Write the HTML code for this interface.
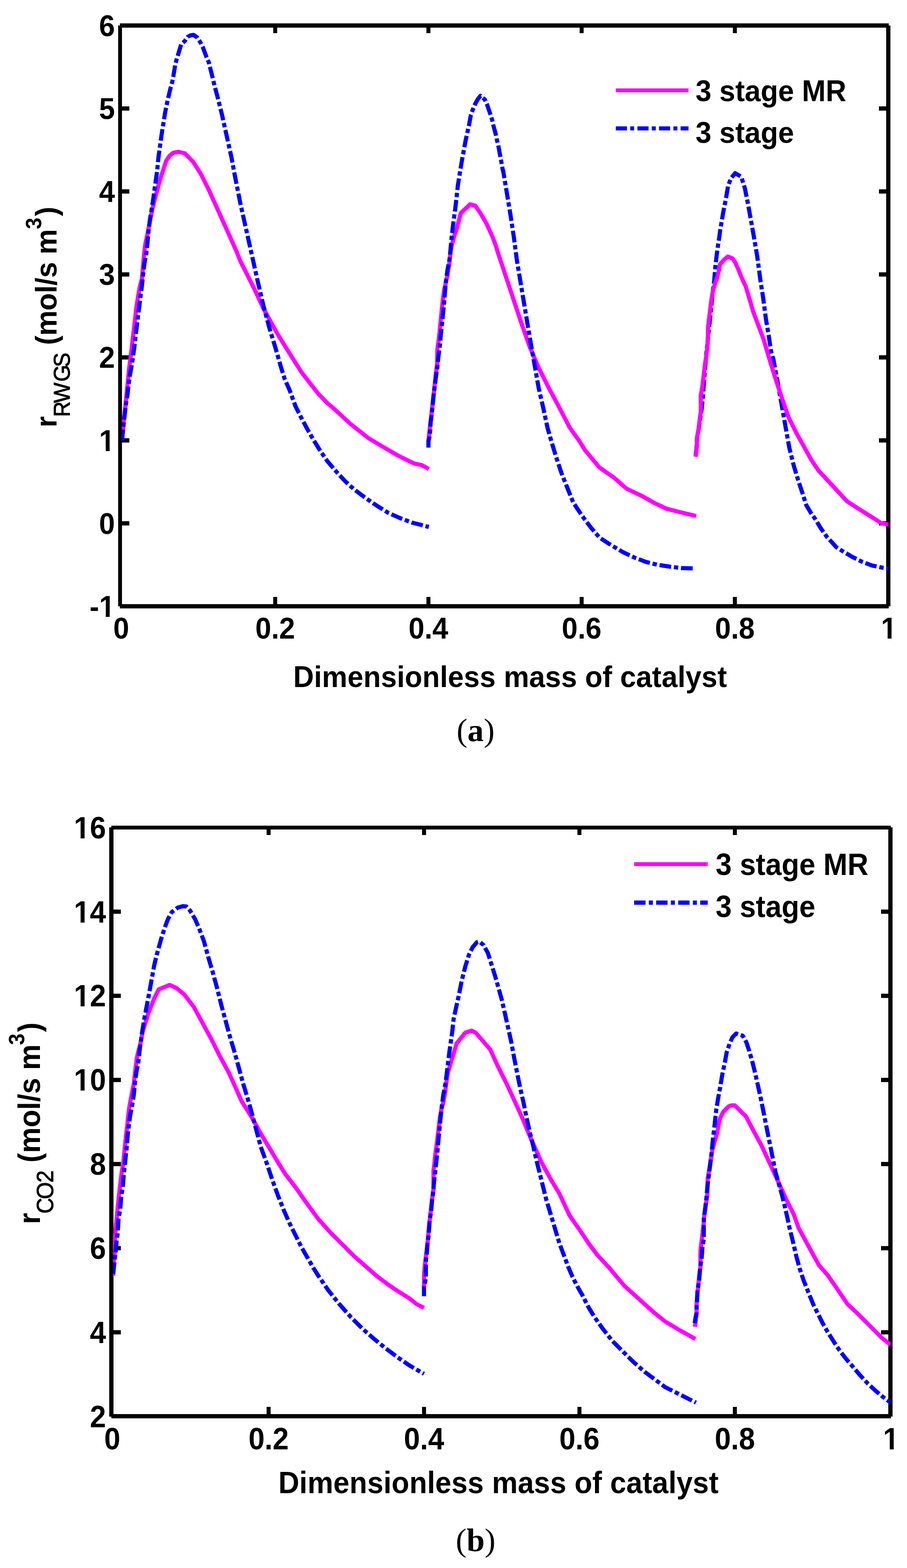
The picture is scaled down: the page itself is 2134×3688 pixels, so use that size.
<!DOCTYPE html>
<html lang="en"><head><meta charset="utf-8"><title>Reaction rate profiles</title>
<style>
html,body{margin:0;padding:0;background:#fff}
svg{display:block}
text{fill:#000}
.sb{font-family:"Liberation Sans",sans-serif;font-weight:bold}
.sr{font-family:"Liberation Serif",serif}
.ss{font-family:"Liberation Sans",sans-serif;font-weight:normal;stroke:#000;stroke-width:1.1px;stroke-linejoin:round}
</style></head><body>
<svg width="2134" height="3688" viewBox="0 0 2134 3688" role="img" aria-label="Reaction rate profiles along the dimensionless mass of catalyst for the 3 stage MR and 3 stage configurations">
<rect width="2134" height="3688" fill="#fff"/>
<rect x="278.0" y="60.0" width="9.0" height="1366.0" fill="#000"/>
<rect x="2085.0" y="60.0" width="10.0" height="1366.0" fill="#000"/>
<rect x="282.0" y="55.0" width="1809.0" height="10.0" fill="#000"/>
<rect x="282.0" y="1421.0" width="1809.0" height="10.0" fill="#000"/>
<rect x="642.8" y="64.0" width="9.4" height="14.0" fill="#000"/>
<rect x="642.8" y="1404.0" width="9.4" height="18.0" fill="#000"/>
<rect x="1003.3" y="64.0" width="9.4" height="14.0" fill="#000"/>
<rect x="1003.3" y="1404.0" width="9.4" height="18.0" fill="#000"/>
<rect x="1363.8" y="64.0" width="9.4" height="14.0" fill="#000"/>
<rect x="1363.8" y="1404.0" width="9.4" height="18.0" fill="#000"/>
<rect x="1724.3" y="64.0" width="9.4" height="14.0" fill="#000"/>
<rect x="1724.3" y="1404.0" width="9.4" height="18.0" fill="#000"/>
<rect x="286.0" y="1225.9" width="18.3" height="10.0" fill="#000"/>
<rect x="2068.0" y="1225.9" width="18.0" height="10.0" fill="#000"/>
<rect x="286.0" y="1030.8" width="18.3" height="10.0" fill="#000"/>
<rect x="2068.0" y="1030.8" width="18.0" height="10.0" fill="#000"/>
<rect x="286.0" y="835.6" width="18.3" height="10.0" fill="#000"/>
<rect x="2068.0" y="835.6" width="18.0" height="10.0" fill="#000"/>
<rect x="286.0" y="640.5" width="18.3" height="10.0" fill="#000"/>
<rect x="2068.0" y="640.5" width="18.0" height="10.0" fill="#000"/>
<rect x="286.0" y="445.3" width="18.3" height="10.0" fill="#000"/>
<rect x="2068.0" y="445.3" width="18.0" height="10.0" fill="#000"/>
<rect x="286.0" y="250.2" width="18.3" height="10.0" fill="#000"/>
<rect x="2068.0" y="250.2" width="18.0" height="10.0" fill="#000"/>
<clipPath id="clipa"><rect x="286.5" y="60" width="1804.0" height="1366"/></clipPath>
<g clip-path="url(#clipa)">
<polyline points="287.0,1036.0 289.5,1005.0 291.5,985.0 294.3,961.6 297.5,929.8 300.6,898.1 303.8,866.3 307.0,842.5 309.8,818.7 312.5,794.9 315.4,771.1 318.1,747.3 320.8,723.5 324.4,699.7 328.4,677.0 333.8,655.6 336.0,633.3 337.7,611.1 339.9,588.9 342.1,573.3 344.9,560.0 347.7,546.7 350.5,532.0 354.6,511.1 357.9,494.4 361.8,477.8 366.2,461.1 370.7,444.4 375.1,427.8 379.6,413.3 384.0,400.0 390.7,378.8 398.9,366.5 407.2,359.6 419.5,356.9 434.6,360.4 454.3,380.5 464.1,395.7 473.9,411.8 482.9,429.6 491.8,447.5 499.8,465.4 507.9,483.2 515.9,501.1 523.9,518.9 532.0,536.8 540.0,554.6 548.0,572.5 556.1,590.4 563.2,608.2 567.7,618.9 575.2,633.2 599.2,681.2 619.8,725.8 636.9,756.7 654.1,787.5 671.2,815.0 688.4,842.4 709.0,875.0 729.5,901.5 750.0,927.4 770.0,948.0 784.3,960.0 825.4,997.7 866.6,1030.3 900.9,1050.9 935.2,1070.8 974.6,1090.3 991.8,1093.8 1008.9,1103.0" fill="none" stroke="#ff00ff" stroke-width="9.7" stroke-linejoin="round"/>
<polyline points="287.0,1036.2 289.5,1012.0 291.5,993.0 294.0,970.0 297.0,946.0 299.8,930.0 302.5,905.0 306.0,880.0 310.5,856.0 313.0,838.0 315.8,818.7 318.5,795.0 321.5,770.0 324.5,745.0 327.5,722.0 330.5,698.0 333.9,672.2 336.7,644.4 340.0,618.9 344.4,594.4 347.2,568.9 349.4,543.9 352.4,518.3 356.7,493.3 360.6,467.8 363.9,442.8 367.6,417.2 369.4,404.4 372.9,369.2 379.7,319.8 388.0,267.7 392.0,247.0 396.0,229.0 400.4,210.5 405.3,192.6 407.8,179.6 412.1,153.7 414.9,142.0 418.9,129.0 426.3,104.3 434.9,96.3 441.7,86.5 448.0,83.3 455.3,82.0 464.0,88.3 471.4,99.4 477.5,111.7 486.2,135.2 491.1,146.3 494.2,158.6 500.4,183.3 503.5,196.3 506.5,208.0 512.1,229.0 522.4,270.5 533.4,319.8 544.4,369.2 552.0,410.0 564.9,475.4 578.6,537.2 592.4,598.9 606.1,660.6 619.8,718.9 633.5,770.4 647.2,815.0 660.9,863.0 670.0,892.0 681.5,917.7 695.2,955.4 709.0,982.9 722.7,1008.6 736.4,1032.6 750.1,1054.9 763.8,1075.5 770.6,1085.2 791.2,1109.2 811.7,1131.5 832.3,1150.3 859.7,1170.9 887.2,1189.8 914.6,1206.9 942.0,1218.9 969.5,1229.2 990.0,1234.4 1008.9,1239.5" fill="none" stroke="#0000ff" stroke-width="9.7" stroke-dasharray="27.54 6.54 10.30 6.54" stroke-dashoffset="1.5" stroke-linejoin="round"/>
<polyline points="1008.0,1038.0 1010.3,1015.0 1013.0,992.0 1017.5,953.0 1022.3,909.0 1025.3,880.0 1028.5,856.0 1029.0,822.0 1032.7,795.6 1034.9,773.3 1036.6,756.7 1038.2,740.0 1039.9,723.3 1041.6,706.7 1043.2,695.6 1045.4,678.9 1047.7,671.1 1049.0,662.2 1052.3,651.1 1054.6,634.4 1056.8,623.3 1058.4,606.7 1060.7,590.0 1062.9,576.7 1066.2,564.4 1069.6,552.2 1074.0,540.0 1084.3,501.0 1106.2,480.4 1118.5,484.0 1130.9,502.4 1144.6,525.7 1158.3,555.9 1166.6,577.8 1171.5,594.3 1185.2,635.4 1205.8,697.2 1226.3,758.9 1246.9,817.2 1267.5,865.2 1291.5,913.2 1315.5,957.8 1340.0,1005.0 1363.5,1038.0 1376.0,1058.3 1410.3,1099.5 1444.6,1123.5 1473.8,1149.2 1513.2,1168.0 1537.2,1181.8 1568.1,1196.5 1602.4,1205.1 1638.0,1213.6" fill="none" stroke="#ff00ff" stroke-width="9.7" stroke-linejoin="round"/>
<polyline points="1008.0,1052.8 1008.0,1037.8 1010.6,1026.7 1012.0,1014.4 1013.3,992.2 1015.6,975.6 1017.8,953.3 1020.0,931.1 1022.8,908.9 1025.6,886.7 1028.9,864.4 1031.1,842.2 1033.3,825.6 1035.0,812.2 1037.2,787.2 1040.0,761.7 1042.4,736.7 1045.0,711.1 1047.0,685.6 1049.4,660.6 1052.8,635.0 1057.6,610.0 1060.2,584.4 1062.4,559.4 1064.4,543.3 1065.0,536.7 1071.9,484.5 1077.4,435.1 1084.5,391.3 1088.3,368.6 1090.6,357.3 1095.1,332.4 1100.4,308.3 1103.4,294.7 1107.9,270.5 1112.1,258.5 1118.5,243.4 1124.5,232.8 1130.5,225.3 1140.3,233.6 1145.6,244.9 1153.9,269.0 1157.7,281.1 1160.7,294.7 1166.8,317.3 1169.5,330.9 1172.8,344.5 1177.3,368.6 1179.6,380.7 1181.8,394.3 1184.4,405.0 1192.6,454.3 1200.8,503.7 1209.1,558.6 1216.0,611.4 1226.3,673.2 1236.6,734.9 1246.9,796.6 1257.2,854.9 1267.5,913.2 1277.8,957.8 1288.1,1005.8 1298.4,1042.0 1310.9,1082.3 1321.2,1113.2 1334.9,1147.5 1348.6,1181.8 1369.2,1212.6 1389.7,1240.1 1410.3,1264.1 1430.9,1277.8 1465.2,1298.4 1492.6,1311.4 1520.1,1321.7 1547.5,1328.5 1574.9,1332.6 1602.4,1336.1 1633.5,1337.0" fill="none" stroke="#0000ff" stroke-width="9.7" stroke-dasharray="27.54 6.54 10.30 6.54" stroke-dashoffset="1" stroke-linejoin="round"/>
<polyline points="1636.5,1074.0 1639.0,1051.0 1640.0,1030.0 1644.0,1008.0 1648.0,981.0 1650.6,964.4 1652.8,944.4 1654.1,931.0 1656.7,892.2 1659.5,860.0 1662.2,826.7 1665.0,806.0 1665.9,792.2 1667.8,776.7 1668.9,765.6 1670.6,748.9 1672.8,726.7 1674.8,710.0 1676.1,693.0 1678.3,676.7 1680.0,664.4 1682.2,638.9 1683.1,626.7 1686.1,601.1 1689.4,576.7 1692.0,560.0 1694.3,542.6 1701.2,501.5 1708.0,467.2 1713.2,436.3 1720.0,419.2 1729.6,407.2 1744.0,415.7 1752.6,443.2 1759.5,477.5 1766.3,515.2 1774.9,563.2 1781.8,604.3 1788.6,655.8 1795.5,700.4 1802.3,751.8 1809.2,793.0 1814.3,827.3 1819.5,844.6 1829.8,899.5 1840.1,957.8 1848.6,1005.8 1857.2,1053.8 1867.5,1094.9 1877.8,1129.2 1888.1,1160.1 1897.0,1188.0 1908.1,1206.7 1918.4,1221.2 1930.7,1241.7 1945.1,1262.3 1957.5,1275.7 1967.7,1287.0 1984.2,1297.3 2004.8,1309.6 2027.4,1320.9 2052.1,1330.2 2076.8,1335.3 2090.2,1337.4" fill="none" stroke="#0000ff" stroke-width="9.7" stroke-dasharray="27.54 6.54 10.30 6.54" stroke-dashoffset="49.2" stroke-linejoin="round"/>
<polyline points="1636.7,1074.4 1639.7,1051.1 1639.7,1030.0 1643.6,1008.9 1646.9,981.1 1648.8,970.0 1648.8,930.0 1652.4,908.9 1655.8,881.1 1659.1,853.3 1661.7,837.8 1664.4,815.6 1665.6,793.3 1665.9,768.9 1668.3,748.9 1671.1,726.7 1673.9,704.4 1676.7,687.8 1681.1,671.1 1686.7,654.4 1691.1,637.8 1693.9,622.2 1703.3,611.1 1712.2,603.3 1723.3,607.8 1730.0,617.8 1736.7,632.2 1743.3,648.9 1750.0,664.4 1754.3,672.9 1764.6,707.2 1771.5,731.2 1781.8,758.7 1792.0,786.1 1797.2,800.0 1809.2,841.2 1826.3,896.0 1840.1,937.2 1855.5,981.8 1874.3,1019.5 1891.5,1050.3 1908.6,1081.2 1925.8,1106.9 1949.8,1132.6 1970.4,1154.9 1992.7,1178.9 2021.8,1197.8 2049.2,1214.9 2073.3,1230.4 2090.4,1233.8" fill="none" stroke="#ff00ff" stroke-width="9.7" stroke-linejoin="round"/>
</g>
<text class="sb" transform="translate(270.50,1450.84) scale(1,1.06)" font-size="67.2" text-anchor="end" >-1</text><g transform="translate(270.50,1450.84) scale(1,1.06)" fill="#fff"><rect x="-34.34" y="-7.86" width="12.65" height="9.06"/><rect x="-12.47" y="-7.86" width="11.80" height="9.06"/></g>
<text class="sb" transform="translate(270.50,1255.70) scale(1,1.06)" font-size="67.2" text-anchor="end" >0</text>
<text class="sb" transform="translate(270.50,1060.56) scale(1,1.06)" font-size="67.2" text-anchor="end" >1</text><g transform="translate(270.50,1060.56) scale(1,1.06)" fill="#fff"><rect x="-34.34" y="-7.86" width="12.65" height="9.06"/><rect x="-12.47" y="-7.86" width="11.80" height="9.06"/></g>
<text class="sb" transform="translate(270.50,865.42) scale(1,1.06)" font-size="67.2" text-anchor="end" >2</text>
<text class="sb" transform="translate(270.50,670.28) scale(1,1.06)" font-size="67.2" text-anchor="end" >3</text>
<text class="sb" transform="translate(270.50,475.14) scale(1,1.06)" font-size="67.2" text-anchor="end" >4</text>
<text class="sb" transform="translate(270.50,280.00) scale(1,1.06)" font-size="67.2" text-anchor="end" >5</text>
<text class="sb" transform="translate(270.50,84.86) scale(1,1.06)" font-size="67.2" text-anchor="end" >6</text>
<text class="sb" transform="translate(285.30,1502.30) scale(1,1.06)" font-size="67.2" text-anchor="middle" >0</text>
<text class="sb" transform="translate(647.50,1502.30) scale(1,1.06)" font-size="67.2" text-anchor="middle" >0.2</text>
<text class="sb" transform="translate(1008.00,1502.30) scale(1,1.06)" font-size="67.2" text-anchor="middle" >0.4</text>
<text class="sb" transform="translate(1368.50,1502.30) scale(1,1.06)" font-size="67.2" text-anchor="middle" >0.6</text>
<text class="sb" transform="translate(1729.00,1502.30) scale(1,1.06)" font-size="67.2" text-anchor="middle" >0.8</text>
<text class="sb" transform="translate(2091.40,1502.30) scale(1,1.06)" font-size="67.2" text-anchor="middle" >1</text><g transform="translate(2091.40,1502.30) scale(1,1.06)" fill="#fff"><rect x="-15.65" y="-7.86" width="12.65" height="9.06"/><rect x="6.22" y="-7.86" width="11.80" height="9.06"/></g>
<rect x="1448.9" y="207.9" width="171.0" height="9.0" fill="#ff00ff"/>
<line x1="1448.9" y1="302" x2="1619.9" y2="302" stroke="#0000ff" stroke-width="9.6" stroke-dasharray="26.2 7.6 9.4 7.6"/>
<text class="sb" transform="translate(1636.50,238.30) scale(1,1.06)" font-size="67.2" text-anchor="start" >3 stage MR</text>
<text class="sb" transform="translate(1636.50,336.30) scale(1,1.06)" font-size="67.2" text-anchor="start" >3 stage</text>
<text class="sb" transform="translate(1200.30,1615.80) scale(1,1.06)" font-size="67.2" text-anchor="middle" letter-spacing="0.16">Dimensionless mass of catalyst</text>
<text class="sb" transform="translate(133.20,1005.30) rotate(-90) scale(1,1.06)" font-size="67.2"><tspan x="0.00" y="0.00" >r</tspan><tspan class="ss" x="24.50" y="29.15" font-size="51" dx="0 -3.1 2.2 -5.4">RWGS</tspan><tspan x="175.63" y="0.00" letter-spacing="-0.5"> (mol/s m</tspan><tspan x="466.30" y="-34.53" font-size="48.8" >3</tspan><tspan x="496.90" y="0.00" >)</tspan></text>
<text class="sr" x="1119" y="1743" font-size="76.7" text-anchor="middle">(<tspan font-weight="bold">a</tspan>)</text>
<rect x="257.0" y="1946.0" width="10.0" height="1386.0" fill="#000"/>
<rect x="2090.0" y="1946.0" width="10.0" height="1386.0" fill="#000"/>
<rect x="262.0" y="1942.0" width="1834.0" height="9.0" fill="#000"/>
<rect x="262.0" y="3326.0" width="1834.0" height="10.0" fill="#000"/>
<rect x="627.3" y="1950.0" width="9.4" height="14.0" fill="#000"/>
<rect x="627.3" y="3309.0" width="9.4" height="18.0" fill="#000"/>
<rect x="993.0" y="1950.0" width="9.4" height="14.0" fill="#000"/>
<rect x="993.0" y="3309.0" width="9.4" height="18.0" fill="#000"/>
<rect x="1358.6" y="1950.0" width="9.4" height="14.0" fill="#000"/>
<rect x="1358.6" y="3309.0" width="9.4" height="18.0" fill="#000"/>
<rect x="1724.3" y="1950.0" width="9.4" height="14.0" fill="#000"/>
<rect x="1724.3" y="3309.0" width="9.4" height="18.0" fill="#000"/>
<rect x="266.0" y="3128.6" width="18.3" height="10.0" fill="#000"/>
<rect x="2073.0" y="3128.6" width="18.0" height="10.0" fill="#000"/>
<rect x="266.0" y="2930.8" width="18.3" height="10.0" fill="#000"/>
<rect x="2073.0" y="2930.8" width="18.0" height="10.0" fill="#000"/>
<rect x="266.0" y="2732.9" width="18.3" height="10.0" fill="#000"/>
<rect x="2073.0" y="2732.9" width="18.0" height="10.0" fill="#000"/>
<rect x="266.0" y="2535.1" width="18.3" height="10.0" fill="#000"/>
<rect x="2073.0" y="2535.1" width="18.0" height="10.0" fill="#000"/>
<rect x="266.0" y="2337.2" width="18.3" height="10.0" fill="#000"/>
<rect x="2073.0" y="2337.2" width="18.0" height="10.0" fill="#000"/>
<rect x="266.0" y="2139.3" width="18.3" height="10.0" fill="#000"/>
<rect x="2073.0" y="2139.3" width="18.0" height="10.0" fill="#000"/>
<clipPath id="clipb"><rect x="265.9" y="1946" width="1829.6" height="1386"/></clipPath>
<g clip-path="url(#clipb)">
<polyline points="266.3,3000.6 266.9,2973.3 269.7,2951.1 270.8,2906.7 272.6,2884.4 274.8,2862.2 277.0,2840.0 279.2,2817.8 281.4,2797.8 283.7,2778.9 286.4,2756.7 289.4,2740.0 292.0,2715.6 294.2,2693.3 296.4,2671.1 299.2,2648.9 301.4,2626.7 304.2,2604.4 307.6,2585.6 311.4,2565.6 314.8,2548.9 317.0,2528.9 319.2,2510.0 322.0,2487.8 326.4,2468.9 329.2,2460.0 335.7,2426.4 349.5,2381.8 363.2,2347.5 373.5,2326.9 399.2,2316.6 414.6,2323.5 433.5,2338.9 455.8,2368.1 476.3,2405.8 496.9,2443.5 517.5,2484.7 538.1,2522.4 556.0,2562.0 568.9,2590.9 592.9,2628.6 613.5,2666.3 634.1,2700.6 654.7,2734.9 671.8,2762.3 695.8,2793.2 719.8,2827.5 750.0,2868.6 778.0,2899.5 805.4,2926.9 832.9,2954.3 860.3,2978.3 887.8,3002.3 915.2,3022.9 935.8,3036.6 963.2,3053.8 980.3,3067.5 997.5,3076.1" fill="none" stroke="#ff00ff" stroke-width="9.7" stroke-linejoin="round"/>
<polyline points="266.3,2996.7 269.1,2970.0 270.3,2957.8 272.0,2945.6 274.4,2918.9 276.1,2906.7 277.2,2894.4 278.9,2867.2 280.9,2855.0 283.1,2842.8 285.0,2816.1 286.9,2803.9 288.9,2791.7 291.1,2764.4 292.2,2752.2 293.9,2737.8 297.8,2701.1 300.0,2674.4 302.8,2650.0 306.1,2624.4 311.1,2598.9 315.0,2573.3 317.2,2548.3 320.9,2522.2 325.6,2496.7 328.3,2472.2 330.0,2460.0 334.0,2429.8 340.9,2388.6 349.5,2344.1 356.3,2306.3 363.2,2268.6 370.0,2241.2 378.6,2210.3 387.2,2182.9 395.7,2160.6 404.3,2145.2 418.0,2134.9 430.0,2131.4 438.6,2132.1 447.2,2141.7 459.2,2162.3 469.5,2186.3 479.8,2213.7 490.1,2251.5 500.3,2285.8 510.6,2323.5 520.9,2364.6 531.2,2402.4 541.5,2440.1 551.8,2474.4 562.1,2512.1 572.4,2549.8 578.0,2568.0 587.8,2601.2 599.8,2645.7 613.5,2697.2 627.2,2734.9 641.0,2776.0 654.7,2813.8 668.4,2848.1 682.1,2878.9 695.8,2906.4 709.5,2933.8 723.3,2957.8 737.0,2981.8 749.0,3000.7 771.2,3033.2 798.6,3067.5 826.0,3098.4 853.5,3125.8 880.9,3149.8 908.3,3172.1 935.8,3192.7 963.2,3211.5 983.8,3223.5 997.5,3231.4" fill="none" stroke="#0000ff" stroke-width="9.7" stroke-dasharray="27.95 6.63 10.45 6.63" stroke-dashoffset="0" stroke-linejoin="round"/>
<polyline points="997.6,3025.6 997.9,2993.3 999.8,2974.4 1000.9,2964.4 1003.1,2946.7 1005.9,2922.2 1007.9,2900.0 1009.8,2880.0 1012.6,2855.6 1015.3,2831.1 1018.7,2803.3 1019.9,2797.8 1019.9,2753.3 1021.6,2740.0 1023.2,2725.6 1024.9,2708.9 1026.6,2697.8 1028.2,2686.7 1029.9,2670.0 1031.6,2658.9 1033.2,2642.2 1035.4,2625.6 1037.7,2614.4 1038.4,2608.9 1041.8,2597.8 1045.1,2581.1 1047.9,2564.4 1050.1,2547.8 1052.3,2531.1 1054.6,2520.0 1064.0,2488.6 1074.3,2454.3 1094.9,2428.6 1109.6,2424.2 1118.9,2428.6 1153.2,2468.1 1172.0,2509.2 1192.6,2550.4 1213.2,2595.0 1230.3,2632.7 1243.0,2664.0 1256.0,2694.0 1274.9,2735.4 1295.5,2773.2 1316.1,2807.5 1340.1,2858.9 1364.1,2893.2 1384.7,2924.1 1405.2,2951.5 1434.3,2982.9 1468.6,3024.0 1502.9,3054.9 1537.2,3085.8 1564.6,3108.0 1598.9,3128.6 1636.0,3149.2" fill="none" stroke="#ff00ff" stroke-width="9.7" stroke-linejoin="round"/>
<polyline points="997.6,3048.7 997.6,3025.6 1000.6,3013.3 1002.0,3000.0 1002.0,2974.4 1002.2,2962.2 1004.1,2948.9 1006.1,2922.2 1007.8,2911.1 1008.9,2898.3 1010.9,2871.7 1012.8,2858.9 1014.7,2846.1 1016.7,2820.6 1018.9,2807.8 1021.1,2781.1 1023.9,2756.1 1026.7,2731.1 1029.4,2705.0 1031.7,2679.4 1034.2,2653.9 1036.7,2627.8 1039.4,2602.2 1042.8,2576.7 1047.6,2551.1 1050.6,2528.9 1057.2,2474.9 1064.0,2426.9 1067.4,2396.0 1072.6,2372.0 1079.5,2341.2 1086.3,2306.9 1094.9,2272.6 1103.5,2245.2 1112.0,2228.0 1122.3,2216.0 1127.5,2214.3 1137.7,2222.9 1148.0,2241.7 1156.6,2269.2 1165.2,2296.6 1172.0,2320.6 1180.6,2351.5 1189.2,2389.2 1196.0,2420.0 1202.9,2450.9 1209.8,2488.6 1216.6,2522.9 1223.5,2557.2 1232.1,2594.9 1238.9,2629.2 1247.5,2667.0 1254.3,2694.3 1264.6,2738.9 1274.9,2780.0 1285.2,2821.2 1295.5,2855.5 1305.8,2889.8 1316.1,2924.1 1326.4,2951.5 1336.6,2978.9 1346.9,3002.9 1357.2,3023.5 1370.9,3047.5 1384.7,3074.9 1398.4,3097.2 1418.0,3125.0 1441.2,3154.3 1461.7,3174.9 1489.2,3202.4 1516.6,3226.4 1544.0,3247.0 1564.6,3262.4 1592.0,3276.1 1637.5,3299.0" fill="none" stroke="#0000ff" stroke-width="9.7" stroke-dasharray="27.95 6.63 10.45 6.63" stroke-dashoffset="4.7" stroke-linejoin="round"/>
<polyline points="1634.9,3120.6 1638.8,3092.2 1639.0,3065.6 1641.0,3043.3 1643.8,3014.4 1646.0,2992.2 1648.0,2981.1 1648.0,2941.1 1649.9,2925.6 1652.1,2907.8 1655.4,2878.9 1657.2,2856.7 1663.9,2812.2 1665.0,2773.3 1673.1,2723.3 1675.9,2704.4 1680.0,2690.0 1683.9,2676.7 1687.8,2662.2 1691.7,2640.0 1694.4,2630.0 1701.1,2616.1 1706.7,2610.0 1714.4,2602.2 1721.1,2599.8 1728.9,2599.8 1748.9,2620.0 1754.3,2624.6 1771.5,2657.2 1792.0,2694.9 1812.6,2739.5 1833.2,2784.1 1850.3,2821.8 1867.5,2856.1 1879.0,2888.4 1896.1,2919.6 1913.1,2950.9 1927.3,2976.4 1947.2,2999.1 1967.0,3027.5 1994.0,3067.3 2021.0,3092.8 2046.6,3118.4 2074.9,3146.8 2094.8,3162.4" fill="none" stroke="#ff00ff" stroke-width="9.7" stroke-linejoin="round"/>
<polyline points="1634.4,3112.2 1636.7,3097.8 1638.9,3087.8 1638.9,3068.9 1639.8,3061.1 1641.1,3034.4 1643.1,3022.8 1645.0,3010.6 1647.2,2983.3 1648.9,2971.1 1650.9,2958.3 1652.8,2932.2 1655.0,2920.0 1655.9,2907.8 1655.9,2881.1 1656.1,2865.6 1658.9,2844.4 1662.0,2817.8 1664.4,2791.1 1667.6,2765.6 1670.9,2740.0 1673.9,2714.4 1676.4,2688.9 1679.4,2662.8 1682.2,2637.8 1685.0,2611.7 1687.8,2594.4 1689.2,2585.2 1694.3,2557.8 1699.5,2526.9 1704.6,2502.9 1709.7,2475.4 1716.6,2454.9 1723.5,2439.4 1732.0,2430.9 1747.5,2436.0 1756.0,2451.4 1762.9,2472.0 1769.8,2496.0 1776.6,2523.5 1783.5,2554.3 1790.3,2585.2 1797.2,2619.5 1804.0,2653.8 1810.9,2688.1 1817.8,2722.4 1824.6,2756.7 1833.2,2787.5 1840.1,2811.5 1846.9,2839.0 1853.8,2869.8 1857.7,2888.4 1864.8,2916.8 1873.3,2953.7 1881.9,2984.9 1890.4,3010.5 1901.7,3038.9 1913.1,3067.3 1924.4,3090.0 1935.8,3112.7 1947.2,3132.6 1961.4,3155.3 1975.6,3176.6 1989.8,3195.1 2006.8,3214.9 2023.8,3234.8 2040.9,3253.3 2060.7,3271.7 2077.8,3285.9 2094.8,3298.7" fill="none" stroke="#0000ff" stroke-width="9.7" stroke-dasharray="27.95 6.63 10.45 6.63" stroke-dashoffset="2" stroke-linejoin="round"/>
</g>
<text class="sb" transform="translate(249.50,3356.70) scale(1,1.06)" font-size="68.1" text-anchor="end" >2</text>
<text class="sb" transform="translate(249.50,3158.84) scale(1,1.06)" font-size="68.1" text-anchor="end" >4</text>
<text class="sb" transform="translate(249.50,2960.98) scale(1,1.06)" font-size="68.1" text-anchor="end" >6</text>
<text class="sb" transform="translate(249.50,2763.12) scale(1,1.06)" font-size="68.1" text-anchor="end" >8</text>
<text class="sb" transform="translate(249.50,2565.26) scale(1,1.06)" font-size="68.1" text-anchor="end" >10</text><g transform="translate(249.50,2565.26) scale(1,1.06)" fill="#fff"><rect x="-72.66" y="-7.95" width="12.80" height="9.15"/><rect x="-50.51" y="-7.95" width="11.94" height="9.15"/></g>
<text class="sb" transform="translate(249.50,2367.40) scale(1,1.06)" font-size="68.1" text-anchor="end" >12</text><g transform="translate(249.50,2367.40) scale(1,1.06)" fill="#fff"><rect x="-72.66" y="-7.95" width="12.80" height="9.15"/><rect x="-50.51" y="-7.95" width="11.94" height="9.15"/></g>
<text class="sb" transform="translate(249.50,2169.54) scale(1,1.06)" font-size="68.1" text-anchor="end" >14</text><g transform="translate(249.50,2169.54) scale(1,1.06)" fill="#fff"><rect x="-72.66" y="-7.95" width="12.80" height="9.15"/><rect x="-50.51" y="-7.95" width="11.94" height="9.15"/></g>
<text class="sb" transform="translate(249.50,1971.68) scale(1,1.06)" font-size="68.1" text-anchor="end" >16</text><g transform="translate(249.50,1971.68) scale(1,1.06)" fill="#fff"><rect x="-72.66" y="-7.95" width="12.80" height="9.15"/><rect x="-50.51" y="-7.95" width="11.94" height="9.15"/></g>
<text class="sb" transform="translate(264.30,3409.30) scale(1,1.06)" font-size="68.1" text-anchor="middle" >0</text>
<text class="sb" transform="translate(632.00,3409.30) scale(1,1.06)" font-size="68.1" text-anchor="middle" >0.2</text>
<text class="sb" transform="translate(997.70,3409.30) scale(1,1.06)" font-size="68.1" text-anchor="middle" >0.4</text>
<text class="sb" transform="translate(1363.30,3409.30) scale(1,1.06)" font-size="68.1" text-anchor="middle" >0.6</text>
<text class="sb" transform="translate(1729.00,3409.30) scale(1,1.06)" font-size="68.1" text-anchor="middle" >0.8</text>
<text class="sb" transform="translate(2096.50,3409.30) scale(1,1.06)" font-size="68.1" text-anchor="middle" >1</text><g transform="translate(2096.50,3409.30) scale(1,1.06)" fill="#fff"><rect x="-15.85" y="-7.95" width="12.80" height="9.15"/><rect x="6.30" y="-7.95" width="11.94" height="9.15"/></g>
<rect x="1492.0" y="2027.9" width="173.1" height="9.1" fill="#ff00ff"/>
<line x1="1492" y1="2123" x2="1665.1" y2="2123" stroke="#0000ff" stroke-width="9.8" stroke-dasharray="26.8 7.8 9.4 7.8"/>
<text class="sb" transform="translate(1683.70,2058.40) scale(1,1.06)" font-size="68.1" text-anchor="start" >3 stage MR</text>
<text class="sb" transform="translate(1683.70,2157.40) scale(1,1.06)" font-size="68.1" text-anchor="start" >3 stage</text>
<text class="sb" transform="translate(1172.90,3512.10) scale(1,1.06)" font-size="68.1" text-anchor="middle" letter-spacing="0.22">Dimensionless mass of catalyst</text>
<text class="sb" transform="translate(94.00,2879.30) rotate(-90) scale(1,1.06)" font-size="68.1"><tspan x="0.00" y="0.00" >r</tspan><tspan class="ss" x="24.70" y="29.25" font-size="51.7" dx="0 -3.2 -1.2">CO2</tspan><tspan x="126.13" y="0.00" letter-spacing="-0.25"> (mol/s m</tspan><tspan x="421.20" y="-35.28" font-size="48.8" >3</tspan><tspan x="451.90" y="0.00" >)</tspan></text>
<text class="sr" x="1119" y="3648" font-size="76.7" text-anchor="middle">(<tspan font-weight="bold">b</tspan>)</text>
</svg></body></html>
